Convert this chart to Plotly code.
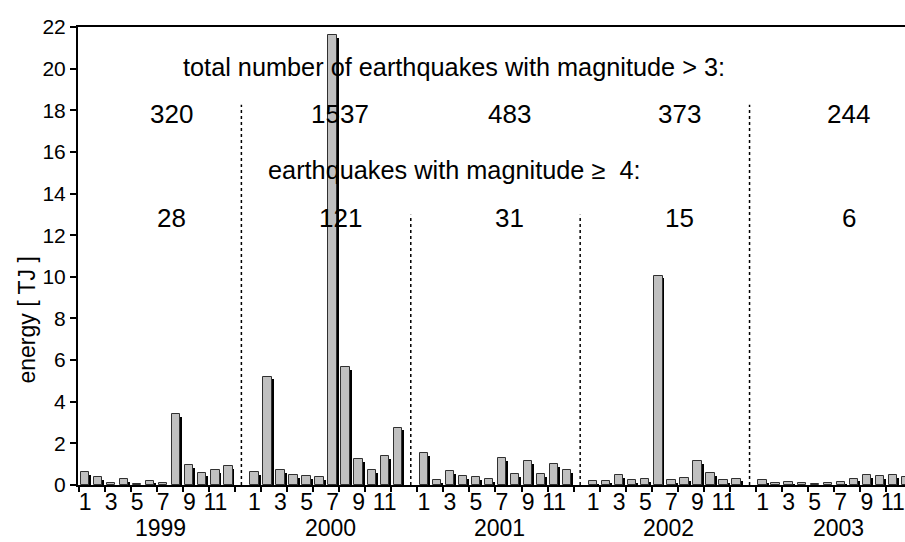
import plotly.graph_objects as go

years = ["1999", "2000", "2001", "2002", "2003"]
months = list(range(1, 13))
energy = {
    "1999": [0.62, 0.37, 0.08, 0.27, 0.06, 0.20, 0.10, 3.41, 0.94, 0.57, 0.70, 0.92],
    "2000": [0.62, 5.21, 0.70, 0.49, 0.41, 0.37, 21.6, 5.67, 1.24, 0.71, 1.38, 2.76],
    "2001": [1.54, 0.22, 0.68, 0.43, 0.38, 0.29, 1.29, 0.52, 1.13, 0.52, 1.00, 0.73],
    "2002": [0.17, 0.19, 0.49, 0.24, 0.29, 10.05, 0.24, 0.33, 1.16, 0.57, 0.25, 0.30],
    "2003": [0.24, 0.11, 0.14, 0.10, 0.05, 0.08, 0.16, 0.30, 0.48, 0.43, 0.46, 0.40],
}
total_m3 = ["320", "1537", "483", "373", "244"]
total_m4 = ["28", "121", "31", "15", "6"]
month_tick_labels = ["1", "3", "5", "7", "9", "11"]
divider_tops = [18.27, 12.98, 12.98, 18.27]

SLOTS = 13  # 12 months + 1 gap slot per year

xs, ys = [], []
for yi, yr in enumerate(years):
    for m, v in zip(months, energy[yr]):
        xs.append(yi * SLOTS + (m - 1))
        ys.append(v)

BW = 0.64
fig = go.Figure()
fig.add_trace(go.Bar(
    x=xs, y=[max(v - 0.13, 0) for v in ys], width=BW, offset=-BW / 2 + 0.15,
    marker=dict(color="black", line=dict(width=0)), hoverinfo="skip", showlegend=False))
fig.add_trace(go.Bar(
    x=xs, y=ys, width=BW, offset=-BW / 2,
    marker=dict(color="#c0c0c0", line=dict(color="#303030", width=1)), showlegend=False))

tickvals, ticktext = [], []
for yi in range(len(years)):
    for lab in month_tick_labels:
        tickvals.append(yi * SLOTS + int(lab) - 1)
        ticktext.append(lab)

shapes = []
for k, top in enumerate(divider_tops):
    xd = k * SLOTS + 12
    shapes.append(dict(type="line", xref="x", yref="y", x0=xd, x1=xd, y0=0, y1=top,
                       line=dict(color="black", width=1.5, dash="dot"), layer="below"))

FONT = "Liberation Sans, Arial, sans-serif"
annotations = []
annotations.append(dict(text="total number of earthquakes with magnitude > 3:", x=28.3, y=20.1,
                        xref="x", yref="y", showarrow=False, font=dict(size=25.3, color="black")))
annotations.append(dict(text="earthquakes with magnitude \u2265  4:", x=28.3, y=15.15,
                        xref="x", yref="y", showarrow=False, font=dict(size=25.3, color="black")))
for yi in range(len(years)):
    xc = yi * SLOTS + 6.6
    annotations.append(dict(text=total_m3[yi], x=xc, y=17.8, xref="x", yref="y",
                            showarrow=False, font=dict(size=26, color="black")))
    annotations.append(dict(text=total_m4[yi], x=xc, y=12.84, xref="x", yref="y",
                            showarrow=False, font=dict(size=26, color="black")))
    annotations.append(dict(text=years[yi], x=yi * SLOTS + 5.8, y=-(542 - 485) / 458,
                            xref="x", yref="paper", borderpad=0,
                            showarrow=False, yanchor="bottom", font=dict(size=23, color="black")))
annotations.append(dict(text="energy [ TJ ]", x=-(78 - 27) / 827, y=7.9, xref="paper", yref="y",
                        xanchor="center", yanchor="middle",
                        textangle=-90, showarrow=False, font=dict(size=23, color="black")))

fig.update_layout(
    width=905, height=542,
    margin=dict(l=78, r=0, t=27, b=57),
    paper_bgcolor="white", plot_bgcolor="white",
    barmode="overlay", bargap=0,
    font=dict(family=FONT, color="black"),
    shapes=shapes, annotations=annotations,
    xaxis=dict(range=[-0.54, 62.93], tickvals=tickvals, ticktext=ticktext, ticks="",
               tickfont=dict(size=23), showgrid=False, zeroline=False, ticklabelstandoff=-5,
               ticklabeloverflow="allow",
               showline=True, linecolor="black", linewidth=2, mirror=True,
               minor=dict(tick0=-0.5, dtick=2, ticks="outside", ticklen=5,
                          tickcolor="black", tickwidth=1.5, showgrid=False)),
    yaxis=dict(range=[0, 22], dtick=2, ticks="outside", ticklen=6, tickwidth=1.5,
               tickcolor="black", tickfont=dict(size=21), showgrid=False, zeroline=False,
               showline=True, linecolor="black", linewidth=2),
)

fig.write_html("out.html")
